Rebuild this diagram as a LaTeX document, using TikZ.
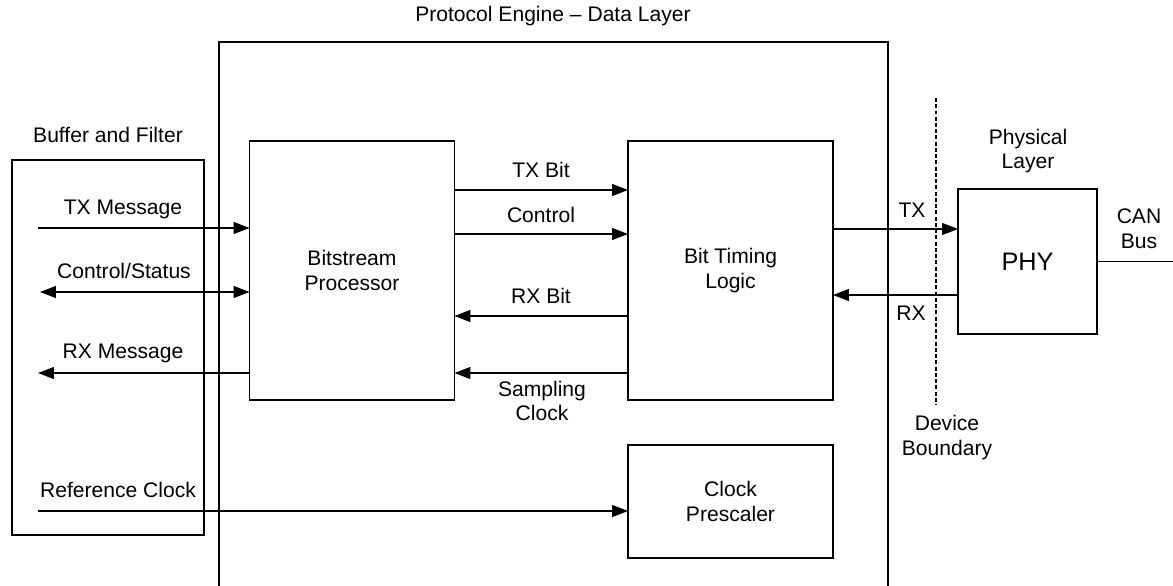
\documentclass[tikz,border=0pt]{standalone}
\usepackage{fontspec}
\setmainfont{Liberation Sans}
\usetikzlibrary{arrows.meta}
\begin{document}
\begin{tikzpicture}[x=0.02cm, y=-0.02cm,
    every node/.style={font=\fontsize{12}{14}\selectfont, inner sep=0pt, outer sep=0pt},
    block/.style={draw, line width=1.1pt, align=center},
    tag/.style={align=center},
    sig/.style={line width=0.6pt, -{Triangle[length=0.32cm, width=0.24cm]}},
    bisig/.style={sig, {Triangle[length=0.32cm, width=0.24cm]}-{Triangle[length=0.32cm, width=0.24cm]}},
    boundary/.style={line width=0.6pt, dash pattern=on 0.08cm off 0.045cm}]
  \useasboundingbox (0,0) rectangle (1173,585);

  % Blocks; the engine box runs past the lower edge of the page.
  \node[block, minimum width=3.84cm, minimum height=7.5cm] (buffer) at (108,347.5) {};
  \node[block, minimum width=13.38cm, minimum height=11.6cm] (engine) at (553.5,332) {};
  \node[block, minimum width=4.1cm, minimum height=5.18cm] (bsp) at (352,270.5) {Bitstream\\Processor};
  \node[block, minimum width=4.1cm, minimum height=5.18cm] (btl) at (730.5,270.5) {Bit Timing\\Logic};
  \node[block, minimum width=4.1cm, minimum height=2.26cm] (prescaler) at (730.5,501.5) {Clock\\Prescaler};
  \node[block, minimum width=2.78cm, minimum height=2.9cm, font=\fontsize{14.4}{16}\selectfont] (phy) at (1027.5,261.5) {PHY};

  % Titles
  \node[tag] (enginetitle) at (553,16) {Protocol Engine -- Data Layer};
  \node[tag] (buffertitle) at (108,135) {Buffer and Filter};
  \node[tag] (phytitle) at (1028,151) {Physical\\Layer};
  \node[tag] (devbound) at (947,437.5) {Device\\Boundary};
  \coordinate (boundtop) at (936,98);
  \coordinate (boundbot) at (936,405);
  \draw[boundary] (boundtop) -- (boundbot);

  % Buffer and Filter <-> Bitstream Processor
  \coordinate (txmsg) at (38,228);
  \coordinate (ctrlst) at (40,292);
  \coordinate (rxmsg) at (38,373);
  \coordinate (refclk) at (38,511);
  \draw[sig] (txmsg) -- (txmsg -| bsp.west);
  \draw[bisig] (ctrlst) -- (ctrlst -| bsp.west);
  \draw[sig] (rxmsg -| bsp.west) -- (rxmsg);
  \draw[sig] (refclk) -- (refclk -| prescaler.west);
  \node[tag] (txmsglbl) at (123,209) {TX Message};
  \node[tag] (ctrlstlbl) at (124,271) {Control/Status};
  \node[tag] (rxmsglbl) at (123,353) {RX Message};
  \node[tag] (refclklbl) at (118,490) {Reference Clock};

  % Bitstream Processor <-> Bit Timing Logic
  \foreach \y in {190,234} \draw[sig] (bsp.east |- 0,\y) -- (btl.west |- 0,\y);
  \foreach \y in {316,373} \draw[sig] (btl.west |- 0,\y) -- (bsp.east |- 0,\y);
  \node[tag] (txbitlbl) at (541,170) {TX Bit};
  \node[tag] (ctrllbl) at (541,215) {Control};
  \node[tag] (rxbitlbl) at (541,296) {RX Bit};
  \node[tag] (samplbl) at (542,401) {Sampling\\Clock};

  % Bit Timing Logic <-> PHY
  \draw[sig] (btl.east |- 0,229) -- (phy.west |- 0,229);
  \draw[sig] (phy.west |- 0,295) -- (btl.east |- 0,295);
  \node[tag] (txlbl) at (912,210) {TX};
  \node[tag] (rxlbl) at (911,313) {RX};
  \coordinate (busend) at (1173,261.5);
  \draw[line width=0.6pt] (phy.east) -- (busend);
  \node[tag] (buslbl) at (1139,228.5) {CAN\\Bus};
\end{tikzpicture}
\end{document}
